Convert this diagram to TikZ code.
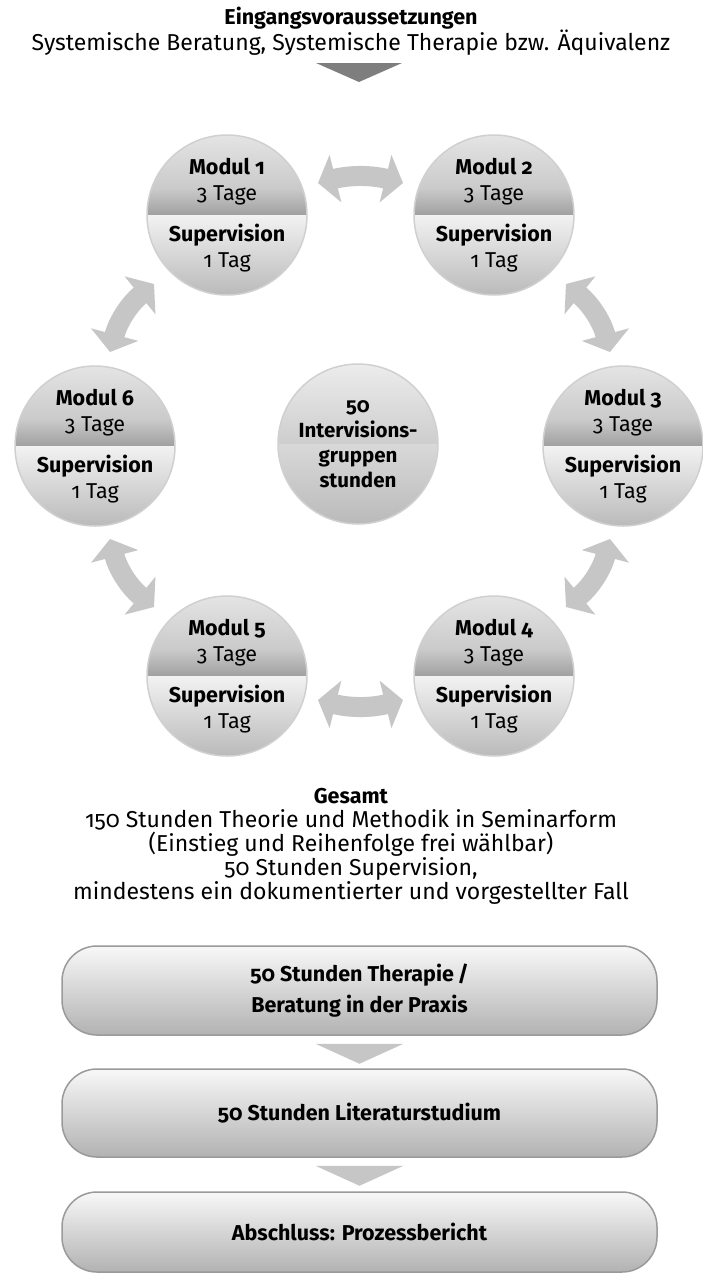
\documentclass[tikz,border=0pt]{standalone}
\usepackage{fontspec}
\setmainfont{Fira Sans}[Numbers=OldStyle]
\usetikzlibrary{arrows.meta,calc}
\definecolor{arrowgray}{HTML}{C6C6C6}
\definecolor{darkarrow}{HTML}{7E7E7E}
\definecolor{upT}{HTML}{E4E4E4}
\definecolor{upM}{HTML}{CACACA}
\definecolor{upB}{HTML}{A0A0A0}
\definecolor{loT}{HTML}{F2F2F2}
\definecolor{loM}{HTML}{DCDCDC}
\definecolor{loB}{HTML}{BABABA}
\definecolor{rim}{HTML}{D0D0D0}
\definecolor{boxrim}{HTML}{9A9A9A}
\definecolor{boxT}{HTML}{F8F8F8}
\definecolor{boxM}{HTML}{E2E3E3}
\definecolor{boxB}{HTML}{B2B2B2}
\tikzset{
  txt/.style={font=\fontsize{23}{24}\selectfont, inner sep=0pt, align=center},
  headtxt/.style={font=\bfseries\fontsize{21.5}{24}\selectfont, inner sep=0pt, align=center},
  modtext/.style={font=\fontsize{21.5}{26}\selectfont, inner sep=0pt, align=center},
  ballrim/.style={draw=rim, line width=1.5pt},
  biarrow/.style={draw=arrowgray, line width=20pt,
     {Triangle[width=48pt,length=18pt]}-{Triangle[width=48pt,length=18pt]}},
  pbox/.style={rounded corners=35pt, draw=boxrim, line width=1.5pt,
     top color=boxT, middle color=boxM, bottom color=boxB,
     minimum width=595pt, align=center, inner sep=0pt,
     font=\bfseries\fontsize{21.5}{31}\selectfont},
  stepper/.style={fill=arrowgray}
}
\newcommand{\modball}[3]{%
  \node[circle, minimum size=160pt, inner sep=0pt] (#1) at (#2) {};
  \begin{scope}
    \clip (#1.center) circle[radius=80pt];
    \shade[top color=upT, bottom color=upM]
      ($(#1.center)+(-80,80)$) rectangle ($(#1.center)+(80,26)$);
    \shade[top color=upM, bottom color=upB]
      ($(#1.center)+(-80,26.5)$) rectangle ($(#1.center)+(80,0)$);
    \shade[top color=loT, middle color=loM, bottom color=loB]
      ($(#1.center)+(-80,0)$) rectangle ($(#1.center)+(80,-80)$);
  \end{scope}
  \draw[ballrim] (#1.center) circle[radius=80pt];
  \node[modtext] (#1top) at ($(#1.center)+(0,33)$) {\textbf{Modul #3}\\3 Tage};
  \node[modtext] (#1bot) at ($(#1.center)+(0,-33)$) {\textbf{Supervision}\\1 Tag};
}
\begin{document}
\begin{tikzpicture}[x=1pt,y=1pt]
\useasboundingbox (0,0) rectangle (702,-1275);
\fill[white] (0,0) rectangle (702,-1275);

% header
\node[headtxt] (title) at (351,-18) {Eingangsvoraussetzungen};
\node[txt] (sub) at (351,-43) {Systemische Beratung, Systemische Therapie bzw. Äquivalenz};
\fill[darkarrow] (316,-63) -- (402,-63) -- (359,-82) -- cycle;

% modules
\modball{m1}{227,-215}{1}
\modball{m2}{494,-215}{2}
\modball{m3}{623,-446}{3}
\modball{m4}{494,-676}{4}
\modball{m5}{227,-676}{5}
\modball{m6}{95,-446}{6}

% centre
\node[circle, minimum size=160pt, inner sep=0pt] (mc) at (358,-444) {};
\begin{scope}
  \clip (mc.center) circle[radius=80pt];
  \shade[top color=upT!70!white, bottom color=upT!90!black]
    ($(mc.center)+(-80,80)$) rectangle ($(mc.center)+(80,0)$);
  \shade[top color=upT!95!black, bottom color=loB]
    ($(mc.center)+(-80,0)$) rectangle ($(mc.center)+(80,-80)$);
\end{scope}
\draw[ballrim] (mc.center) circle[radius=80pt];
\node[modtext, font=\bfseries\fontsize{20.5}{25}\selectfont] (mctext) at (358,-444)
  {50\\Intervisions-\\gruppen\\stunden};

% arrows between modules
\coordinate (a12s) at (318,-183); \coordinate (a12e) at (403,-183);
\coordinate (a23s) at (566,-284); \coordinate (a23e) at (610,-352);
\coordinate (a34s) at (610,-539); \coordinate (a34e) at (566,-607);
\coordinate (a45s) at (403,-700); \coordinate (a45e) at (318,-700);
\coordinate (a56s) at (154,-607); \coordinate (a56e) at (110,-539);
\coordinate (a61s) at (110,-352); \coordinate (a61e) at (154,-284);
\draw[biarrow] (a12s) to[bend left=14] (a12e);
\draw[biarrow] (a23s) to[bend left=18] (a23e);
\draw[biarrow] (a34s) to[bend left=18] (a34e);
\draw[biarrow] (a45s) to[bend left=14] (a45e);
\draw[biarrow] (a56s) to[bend left=18] (a56e);
\draw[biarrow] (a61s) to[bend left=18] (a61e);

% summary
\node[txt] (gesamt) at (351,-846)
  {\textbf{\fontsize{21.5}{24}\selectfont Gesamt}\\
   150 Stunden Theorie und Methodik in Seminarform\\
   (Einstieg und Reihenfolge frei wählbar)\\
   50 Stunden Supervision,\\
   mindestens ein dokumentierter und vorgestellter Fall};

% boxes
\node[pbox, minimum height=89pt] (b1) at (359.5,-990.5) {50 Stunden Therapie\,/\\Beratung in der Praxis};
\node[pbox, minimum height=88pt] (b2) at (359.5,-1113) {50 Stunden Literaturstudium};
\node[pbox, minimum height=80pt] (b3) at (359.5,-1232) {Abschluss: Prozessbericht};
\fill[stepper] ($(b1.south)+(-44,-8)$) -- ($(b1.south)+(44,-8)$) -- ($(b1.south)+(0,-28)$) -- cycle;
\fill[stepper] ($(b2.south)+(-44,-8)$) -- ($(b2.south)+(44,-8)$) -- ($(b2.south)+(0,-28)$) -- cycle;
\end{tikzpicture}
\end{document}
